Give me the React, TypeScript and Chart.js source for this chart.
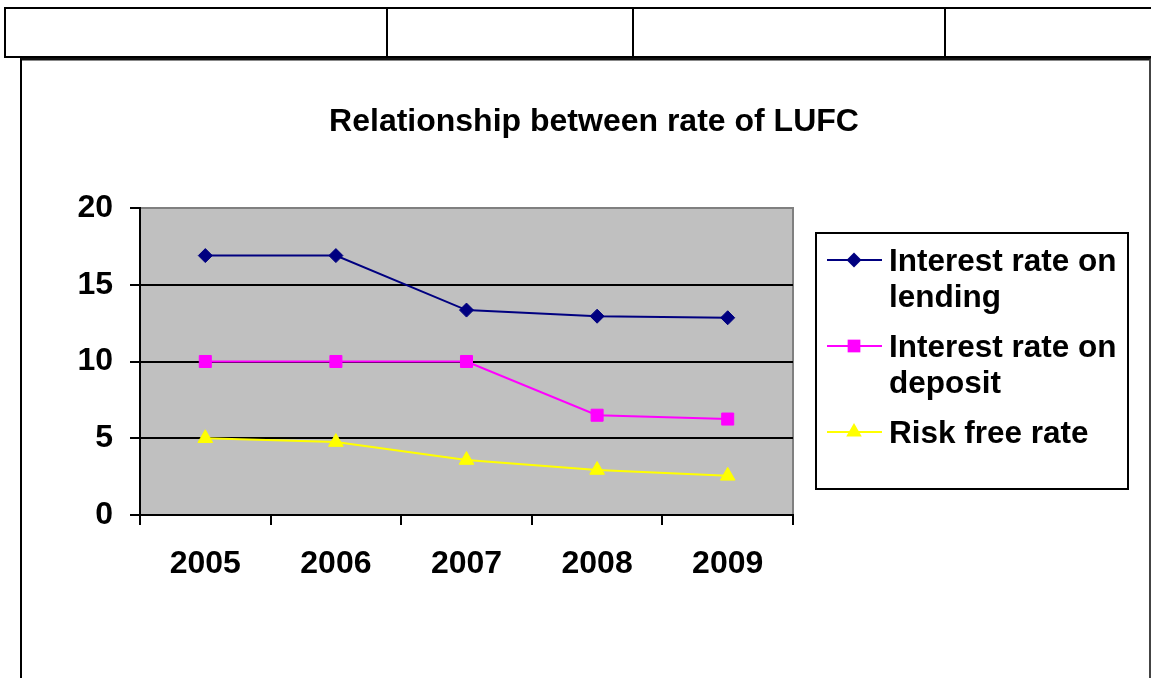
import React, { useEffect, useRef } from 'react';
import { Chart, registerables } from 'chart.js';

Chart.register(...registerables);

const categories = ['2005', '2006', '2007', '2008', '2009'];
const lendingRate = [16.9, 16.9, 13.35, 12.95, 12.85];
const depositRate = [10, 10, 10, 6.5, 6.25];
const riskFreeRate = [5, 4.75, 3.58, 2.93, 2.55];
const yTickValues = [0, 5, 10, 15, 20];
const titleText = 'Relationship between rate of LUFC';
const seriesNames = ['Interest rate on lending', 'Interest rate on deposit', 'Risk free rate'];
const legendLines = [['Interest rate on', 'lending'], ['Interest rate on', 'deposit'], ['Risk free rate']];

const FONT = '"Liberation Sans", Arial, Helvetica, sans-serif';

function drawMarker(ctx: CanvasRenderingContext2D, style: string, x: number, y: number, r: number, color: string) {
  ctx.save();
  ctx.fillStyle = color;
  ctx.beginPath();
  if (style === 'rectRot') {
    ctx.moveTo(x - r, y);
    ctx.lineTo(x, y - r);
    ctx.lineTo(x + r, y);
    ctx.lineTo(x, y + r);
    ctx.closePath();
  } else if (style === 'rect') {
    const s = r * Math.SQRT1_2;
    ctx.rect(x - s, y - s, 2 * s, 2 * s);
  } else {
    const h = r * 1.5;
    const w = r * Math.sqrt(3);
    ctx.moveTo(x, y - r);
    ctx.lineTo(x + w / 2, y + h - r);
    ctx.lineTo(x - w / 2, y + h - r);
    ctx.closePath();
  }
  ctx.fill();
  ctx.restore();
}

const plotBgPlugin = {
  id: 'plotBg',
  beforeDraw(chart: any) {
    const { ctx, chartArea } = chart;
    const { left, top, right, bottom } = chartArea;
    ctx.save();
    ctx.fillStyle = '#C0C0C0';
    ctx.fillRect(left, top, right - left, bottom - top);
    ctx.strokeStyle = '#808080';
    ctx.lineWidth = 2;
    ctx.strokeRect(left, top, right - left, bottom - top);
    ctx.restore();
  },
};

const titlePlugin = {
  id: 'customTitle',
  afterDraw(chart: any) {
    const { ctx } = chart;
    ctx.save();
    ctx.fillStyle = '#000';
    ctx.font = `bold 32px ${FONT}`;
    ctx.textAlign = 'center';
    ctx.textBaseline = 'alphabetic';
    ctx.fillText(titleText, 594, 131);
    ctx.restore();
  },
};

const legendPlugin = {
  id: 'customLegend',
  afterDraw(chart: any) {
    const { ctx } = chart;
    ctx.save();
    ctx.strokeStyle = '#000';
    ctx.lineWidth = 2;
    ctx.strokeRect(816, 233, 312, 256);
    const ys = [260, 346, 432];
    chart.data.datasets.forEach((ds: any, i: number) => {
      const y = ys[i];
      ctx.strokeStyle = ds.borderColor;
      ctx.lineWidth = 2;
      ctx.beginPath();
      ctx.moveTo(827, y);
      ctx.lineTo(882, y);
      ctx.stroke();
      drawMarker(ctx, ds.pointStyle, 854, y, ds.pointRadius + 0.5, ds.borderColor);
      ctx.fillStyle = '#000';
      ctx.font = `bold 31.5px ${FONT}`;
      ctx.textAlign = 'left';
      ctx.textBaseline = 'alphabetic';
      legendLines[i].forEach((line, j) => {
        ctx.fillText(line, 889, y + 11 + j * 36);
      });
    });
    ctx.restore();
  },
};

export default function App() {
  const canvasRef = useRef<HTMLCanvasElement | null>(null);

  useEffect(() => {
    if (!canvasRef.current) return;
    const tickFont = { family: FONT, size: 32, weight: 'bold' as const };
    const chart = new Chart(canvasRef.current, {
      type: 'line',
      data: {
        labels: categories,
        datasets: [
          {
            label: seriesNames[0],
            data: lendingRate,
            borderColor: '#000080',
            backgroundColor: '#000080',
            borderWidth: 2,
            pointStyle: 'rectRot',
            pointRadius: 7,
            pointBorderWidth: 1,
            pointBorderColor: '#000080',
            pointBackgroundColor: '#000080',
            tension: 0,
          },
          {
            label: seriesNames[1],
            data: depositRate,
            borderColor: '#FF00FF',
            backgroundColor: '#FF00FF',
            borderWidth: 2,
            pointStyle: 'rect',
            pointRadius: 8.5,
            pointBorderWidth: 1,
            pointBorderColor: '#FF00FF',
            pointBackgroundColor: '#FF00FF',
            tension: 0,
          },
          {
            label: seriesNames[2],
            data: riskFreeRate,
            borderColor: '#FFFF00',
            backgroundColor: '#FFFF00',
            borderWidth: 2,
            pointStyle: 'triangle',
            pointRadius: 8.5,
            pointBorderWidth: 1,
            pointBorderColor: '#FFFF00',
            pointBackgroundColor: '#FFFF00',
            tension: 0,
          },
        ],
      },
      options: {
        responsive: false,
        animation: false,
        devicePixelRatio: 1,
        layout: { padding: { left: 60, right: 358, top: 208, bottom: 103 } },
        plugins: {
          legend: { display: false },
          title: { display: false },
          tooltip: { enabled: false },
        },
        scales: {
          x: {
            type: 'category',
            offset: true,
            grid: {
              drawOnChartArea: false,
              drawTicks: true,
              tickLength: 10,
              tickColor: '#000',
              tickWidth: 2,
              offset: true,
              lineWidth: 2,
            },
            border: { color: '#000', width: 2 },
            ticks: { color: '#000', font: tickFont, padding: 20, maxRotation: 0, autoSkip: false },
            afterFit: (s: any) => { s.height = 60; },
          },
          y: {
            min: 0,
            max: 20,
            afterBuildTicks: (s: any) => { s.ticks = yTickValues.map((v) => ({ value: v })); },
            grid: {
              color: (c: any) => (c.tick && c.tick.value === 20 ? 'rgba(0,0,0,0)' : '#000'),
              lineWidth: 2,
              tickColor: '#000',
              tickWidth: 2,
              tickLength: 10,
              drawTicks: true,
            },
            border: { color: '#000', width: 2 },
            ticks: { color: '#000', font: tickFont, padding: 17 },
            afterFit: (s: any) => { s.width = 80; },
          },
        },
      },
      plugins: [plotBgPlugin, titlePlugin, legendPlugin],
    });
    return () => chart.destroy();
  }, []);

  return (
    <div style={{ position: 'absolute', left: 0, top: 0, width: 1151, height: 678, overflow: 'hidden', background: '#fff' }}>
      <div style={{ position: 'absolute', left: 4, top: 7, width: 1180, height: 47, borderTop: '2px solid #000', borderBottom: '2px solid #000', borderLeft: '2px solid #000' }} />
      {[386, 632, 944].map((x) => (
        <div key={x} style={{ position: 'absolute', left: x, top: 7, width: 2, height: 51, background: '#000' }} />
      ))}
      <div style={{ position: 'absolute', left: 20, top: 58, width: 1127, height: 700, borderLeft: '2px solid #000', borderTop: '2px solid #111', borderRight: '2px solid #444', boxShadow: '0 1px 0 #888 inset' }} />
      <canvas ref={canvasRef} width={1151} height={678} style={{ position: 'absolute', left: 0, top: 0, width: 1151, height: 678 }} />
    </div>
  );
}
